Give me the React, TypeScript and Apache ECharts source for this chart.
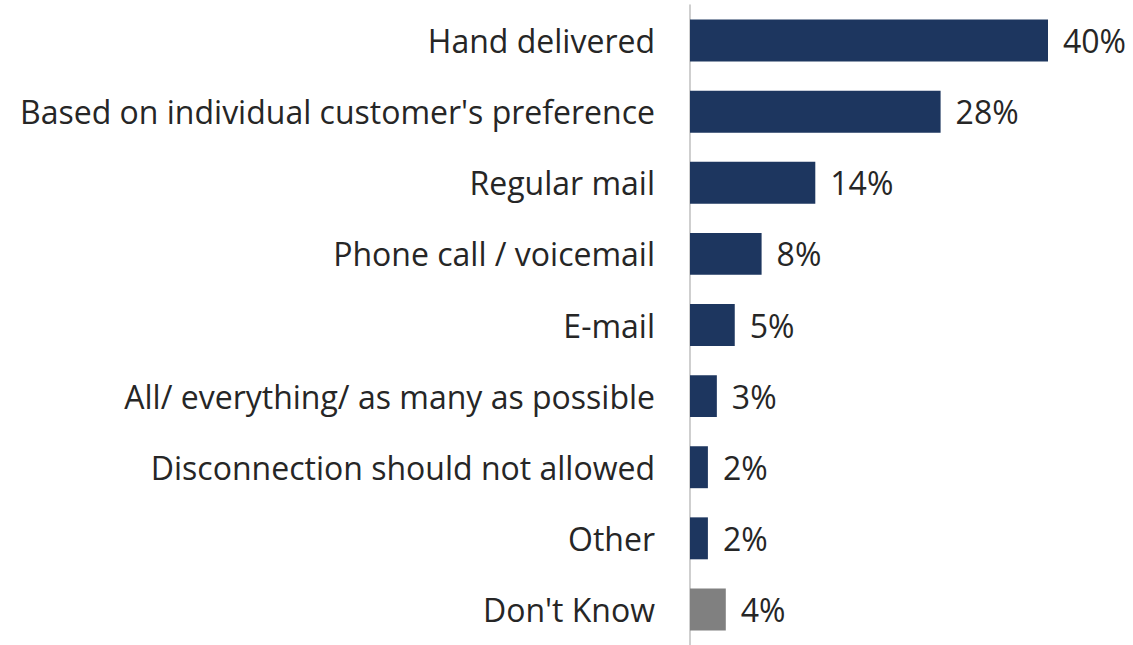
import React, { useEffect, useRef } from "react";
import * as echarts from "echarts";

const categories = [
  "Hand delivered",
  "Based on individual customer's preference",
  "Regular mail",
  "Phone call / voicemail",
  "E-mail",
  "All/ everything/ as many as possible",
  "Disconnection should not allowed",
  "Other",
  "Don't Know",
];
const values = [40, 28, 14, 8, 5, 3, 2, 2, 4];
const barColors = ["#1d365f", "#1d365f", "#1d365f", "#1d365f", "#1d365f", "#1d365f", "#1d365f", "#1d365f", "#808080"];

export default function App() {
  const ref = useRef<HTMLDivElement>(null);
  useEffect(() => {
    if (!ref.current) return;
    const chart = echarts.init(ref.current, null, { renderer: "svg" });
    chart.setOption({
      animation: false,
      backgroundColor: "#ffffff",
      grid: { left: 690, top: 5, width: 358, height: 643, containLabel: false },
      xAxis: {
        type: "value",
        min: 0,
        max: 40,
        show: false,
      },
      yAxis: {
        type: "category",
        data: categories,
        inverse: true,
        axisLine: { show: true, lineStyle: { color: "#bfbfbf", width: 1.5 } },
        axisTick: { show: false },
        axisLabel: {
          margin: 35,
          fontFamily: "Open Sans",
          fontSize: 32,
          color: "#262626",
        },
      },
      series: [
        {
          type: "bar",
          data: values.map((v, i) => ({ value: v, itemStyle: { color: barColors[i] } })),
          barWidth: "59%",
          label: {
            show: true,
            position: "right",
            distance: 15,
            formatter: "{c}%",
            fontFamily: "Open Sans",
            fontSize: 32,
            color: "#262626",
          },
        },
      ],
    });
    return () => chart.dispose();
  }, []);
  return (
    <div
      ref={ref}
      style={{ position: "fixed", left: 0, top: 0, width: 1133, height: 645 }}
    />
  );
}
